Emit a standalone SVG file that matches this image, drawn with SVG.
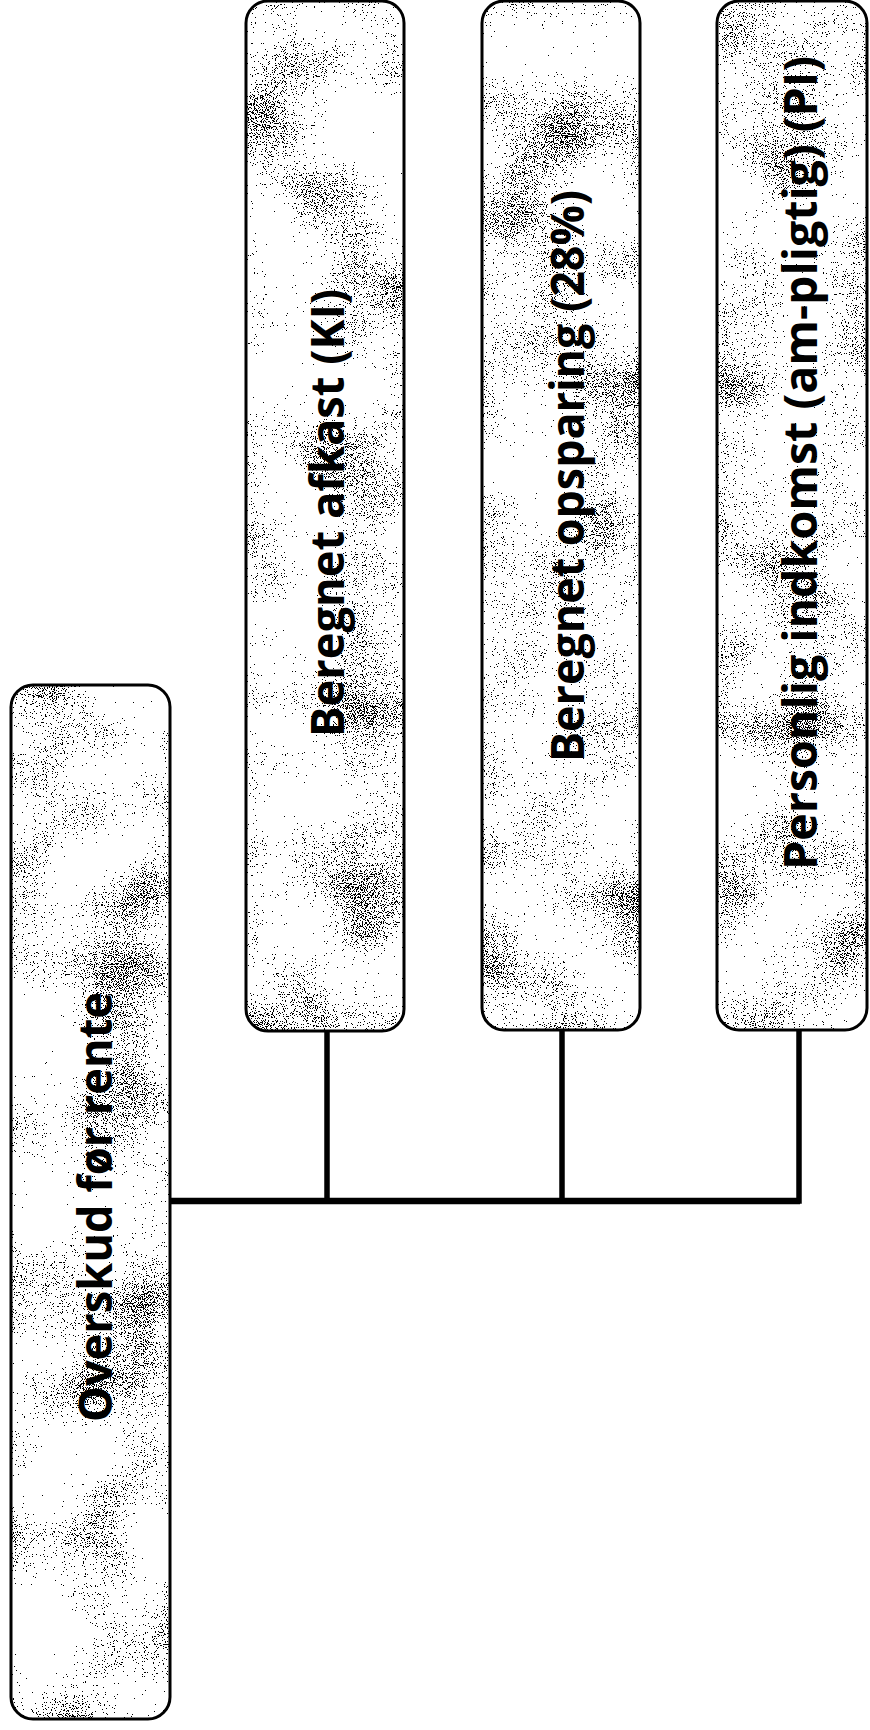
<svg xmlns="http://www.w3.org/2000/svg" width="870" height="1730" viewBox="0 0 870 1730">
  <style>
    .box { fill: #ffffff; stroke: none; }
    .grain { fill: #000000; stroke: none; filter: url(#grain); }
    .edge { fill: none; stroke: #000000; stroke-width: 3; }
    .label { font-family: "Open Sans", "DejaVu Sans", sans-serif; font-weight: 700; font-size: 46px; fill: #000000; text-anchor: middle; }
    .wire { fill: none; stroke: #000000; stroke-width: 5.5; stroke-linecap: square; stroke-linejoin: miter; }
    .bus { fill: none; stroke: #000000; stroke-width: 6.5; }
  </style>
  <defs>
    <!-- dark speckle texture: fine noise modulated by a slow cloudy noise, then thresholded -->
    <filter id="grain" x="0" y="0" width="1" height="1" color-interpolation-filters="sRGB">
      <feTurbulence type="fractalNoise" baseFrequency="0.9" numOctaves="2" seed="7" result="fine"/>
      <feColorMatrix in="fine" type="matrix" values="0 0 0 0 0  0 0 0 0 0  0 0 0 0 0  1 0 0 0 0" result="fineA"/>
      <feTurbulence type="fractalNoise" baseFrequency="0.012" numOctaves="2" seed="3" result="cloud"/>
      <feColorMatrix in="cloud" type="matrix" values="0 0 0 0 0  0 0 0 0 0  0 0 0 0 0  0 1 0 0 0" result="cloudA"/>
      <feComposite in="fineA" in2="cloudA" operator="arithmetic" k1="0" k2="1" k3="0.55" k4="-0.27" result="mix"/>
      <feComponentTransfer in="mix" result="dots">
        <feFuncA type="discrete" tableValues="0 0 0 0 0 0 0 0 0 0 0 0 0 0 1 1 1 1 1 1"/>
      </feComponentTransfer>
      <feComposite in="dots" in2="SourceGraphic" operator="in"/>
    </filter>
  </defs>

  <rect x="0" y="0" width="870" height="1730" fill="#ffffff"/>

  <g id="connectors">
    <path class="bus" d="M170 1201 H800"/>
    <path class="wire" d="M327 1031 V1201"/>
    <path class="wire" d="M562 1031 V1201"/>
    <path class="wire" d="M799 1031 V1201"/>
  </g>

  <g id="node-overskud">
    <rect class="box" x="11" y="685" width="159" height="1034" rx="22"/>
    <rect class="grain" x="11" y="685" width="159" height="1034" rx="22"/>
    <rect class="edge" x="11" y="685" width="159" height="1034" rx="22"/>
    <text class="label" x="112" y="1207" transform="rotate(-90 112 1207)" textLength="430" lengthAdjust="spacingAndGlyphs">Overskud før rente</text>
  </g>

  <g id="node-afkast">
    <rect class="box" x="246" y="1" width="158" height="1030" rx="22"/>
    <rect class="grain" x="246" y="1" width="158" height="1030" rx="22"/>
    <rect class="edge" x="246" y="1" width="158" height="1030" rx="22"/>
    <text class="label" x="344" y="513" transform="rotate(-90 344 513)" textLength="448" lengthAdjust="spacingAndGlyphs">Beregnet afkast (KI)</text>
  </g>

  <g id="node-opsparing">
    <rect class="box" x="482" y="1" width="158" height="1029" rx="22"/>
    <rect class="grain" x="482" y="1" width="158" height="1029" rx="22"/>
    <rect class="edge" x="482" y="1" width="158" height="1029" rx="22"/>
    <text class="label" x="584" y="476" transform="rotate(-90 584 476)" textLength="572" lengthAdjust="spacingAndGlyphs">Beregnet opsparing (28%)</text>
  </g>

  <g id="node-personlig">
    <rect class="box" x="717" y="1" width="150" height="1029" rx="22"/>
    <rect class="grain" x="717" y="1" width="150" height="1029" rx="22"/>
    <rect class="edge" x="717" y="1" width="150" height="1029" rx="22"/>
    <text class="label" x="817" y="463" transform="rotate(-90 817 463)" textLength="814" lengthAdjust="spacingAndGlyphs">Personlig indkomst (am-pligtig) (PI)</text>
  </g>
</svg>
